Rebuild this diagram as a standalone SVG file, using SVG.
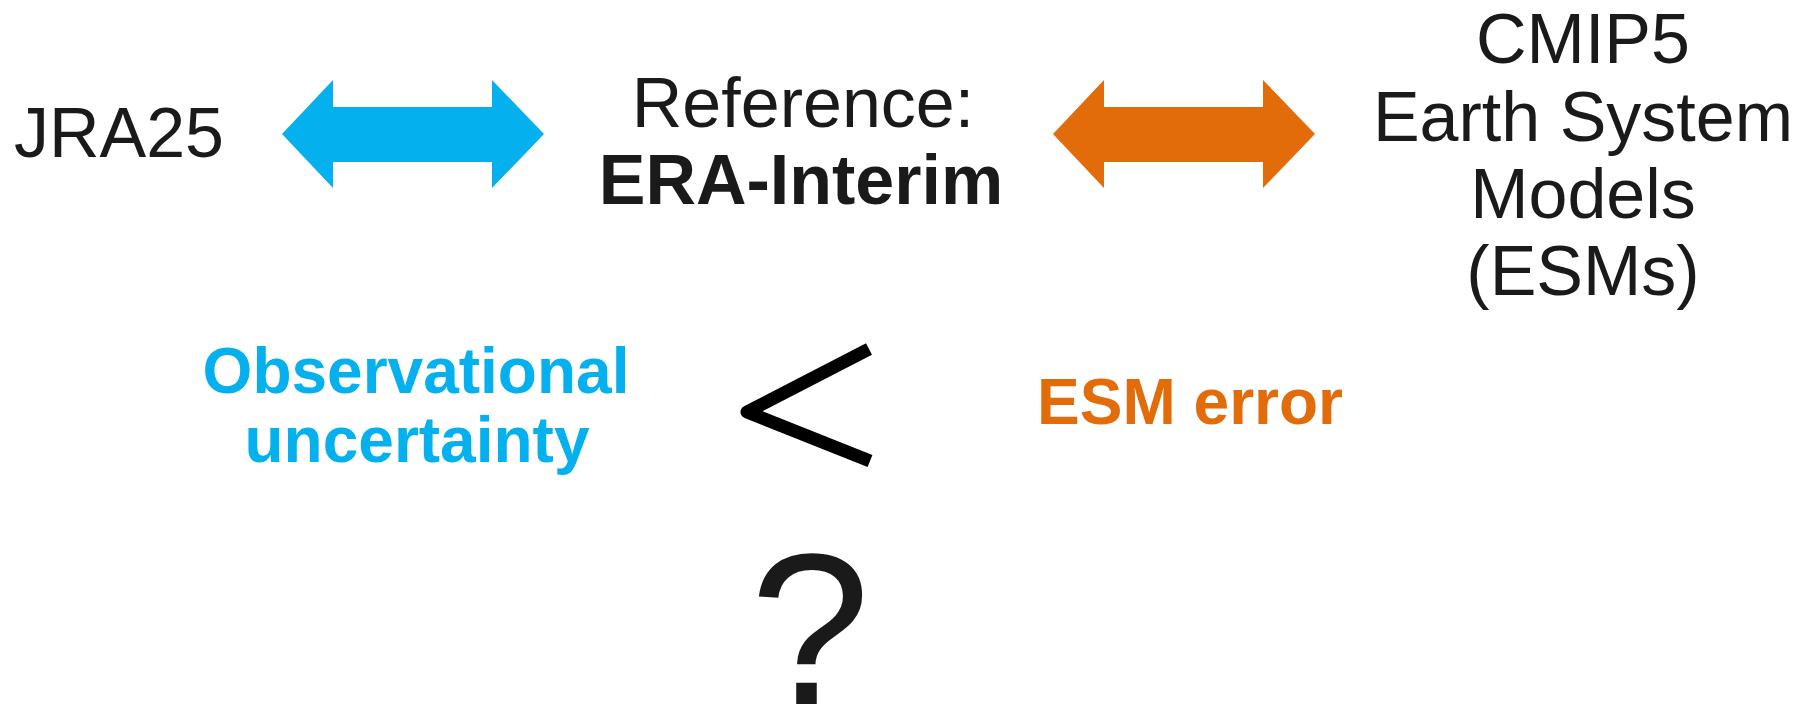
<svg xmlns="http://www.w3.org/2000/svg" width="1810" height="708" viewBox="0 0 1810 708">
<style>
.t{font-family:"Liberation Sans",Arial,sans-serif;font-size:70px;fill:#1a1a1a;text-anchor:middle}
.b{font-weight:bold}
.blue{fill:#05b0ef}
.orange{fill:#e36c0a}
.lbl{font-family:"Liberation Sans",Arial,sans-serif;font-size:64px;font-weight:bold;text-anchor:middle}
</style>
<rect width="1810" height="708" fill="#ffffff"/>
<g id="jra25"><text class="t" x="119" y="157">JRA25</text></g>
<g id="era-interim">
<text class="t" x="803" y="127">Reference:</text>
<text class="t b" x="801" y="204">ERA-Interim</text>
</g>
<g id="cmip5">
<text class="t" x="1583" y="63">CMIP5</text>
<text class="t" x="1583" y="141">Earth System</text>
<text class="t" x="1583" y="218">Models</text>
<text class="t" x="1583" y="295">(ESMs)</text>
</g>
<g id="connectors">
<polygon class="blue" points="282,134 333,80 333,107 492,107 492,80 544,134 492,188 492,162 333,162 333,188"/>
<polygon class="orange" points="1053,134 1104,80 1104,107 1263,107 1263,80 1315,134 1263,188 1263,162 1104,162 1104,188"/>
</g>
<g id="obs-uncertainty">
<text class="lbl blue" x="416" y="393">Observational</text>
<text class="lbl blue" x="417" y="462">uncertainty</text>
</g>
<g id="less-than">
<polyline points="869,349 747,412 870,461" fill="none" stroke="#000000" stroke-width="13" stroke-linejoin="round"/>
</g>
<g id="esm-error"><text class="lbl orange" x="1190" y="424">ESM error</text></g>
<g id="question"><text class="t" x="810" y="704" style="font-size:216px">?</text></g>
</svg>
